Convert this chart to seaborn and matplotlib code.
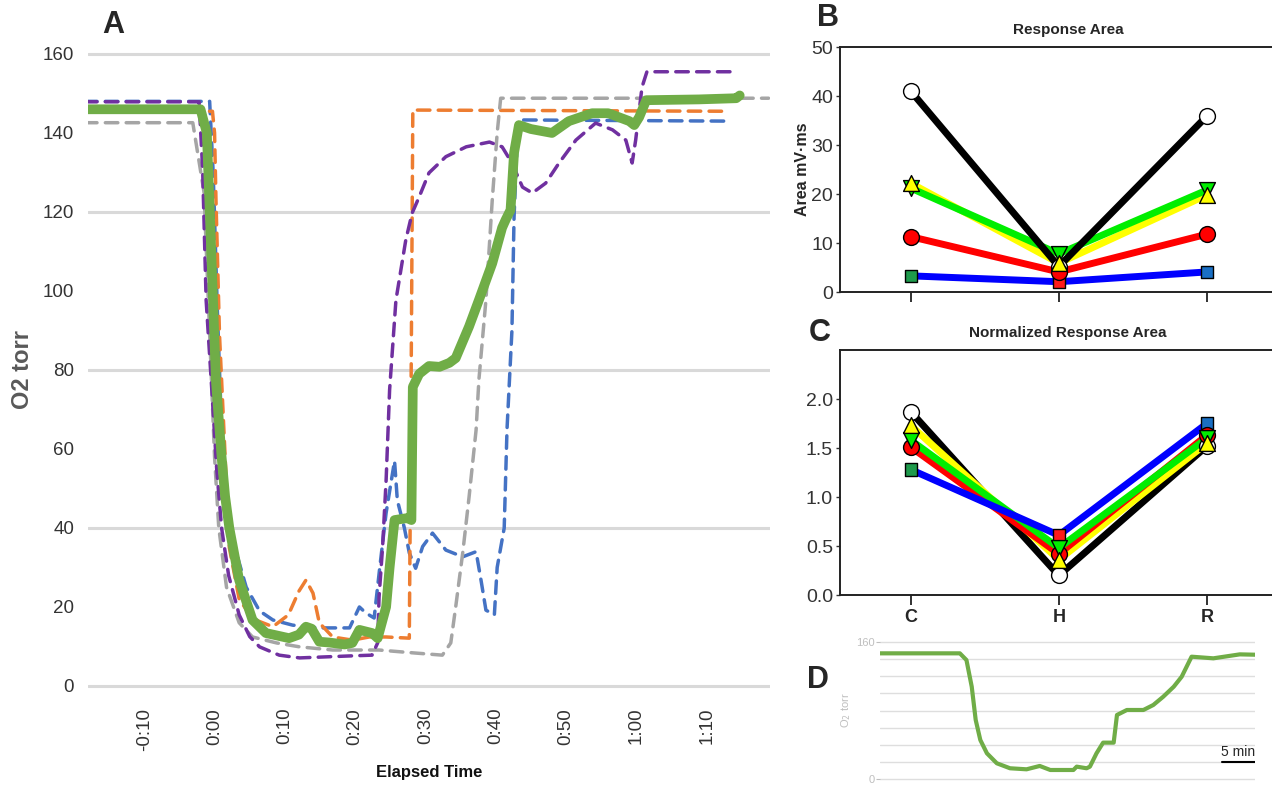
import matplotlib
matplotlib.use("Agg")
import matplotlib.pyplot as plt
import seaborn as sns

# ---- panel A: O2 traces (x in minutes, y in torr) ----
green_t = [-18.5, -2.0, -1.1, -0.7, 0.2, 1.0, 1.5, 2.1, 3.5, 5.4, 7.3, 10.6, 12.0, 13.0, 13.8, 14.9, 16.3, 18.5,
           19.6, 20.6, 22.4, 23.2, 24.4, 24.9, 25.6, 27.4, 28.0, 28.2, 29.1, 30.5, 32.0, 33.4, 34.3, 36.2, 37.6,
           39.5, 40.9, 41.4, 42.1, 42.6, 43.3, 45.0, 48.0, 50.4, 53.7, 56.0, 59.0, 59.7, 60.4, 61.4, 68.9, 74.2, 74.7]
green_y = [146, 146, 140, 121, 77, 58, 48, 40, 26.8, 16.7, 13.4, 12.1, 13, 15, 14.5, 11.2, 11, 10.5,
           10.9, 14.2, 13.4, 12.1, 20, 30, 42, 42.5, 42, 75.7, 79, 81, 80.8, 81.8, 83, 91, 97.7,
           107, 116, 118, 120.5, 135, 142, 141, 140, 143, 145, 145, 143, 142, 144, 148.3, 148.5, 148.8, 149.5]

blue_t = [-18.5, -0.7, -0.2, 0.4, 1.1, 1.8, 3.1, 4.5, 6.4, 8.3, 11.1, 14.9, 19.2, 20.6, 21.5, 22.7, 23.5, 24.4,
          25.6, 26.0, 27.0, 27.7, 28.6, 29.6, 31.0, 32.9, 35.3, 37.2, 37.9, 38.6, 39.8, 40.2, 41.2, 41.6, 42.3,
          42.6, 43.0, 43.3, 73.4]
blue_y = [148, 148, 130, 95, 60, 42, 33.7, 25, 19, 16.7, 15.4, 14.7, 14.7, 20, 18.5, 17.2, 30, 43.8,
          57, 47, 40, 33.7, 29.8, 35.3, 38.7, 34.4, 32.7, 34, 26.8, 19.2, 18, 30, 40, 65, 90,
          118.7, 135.7, 143.3, 143]

orange_t = [-18.5, -0.3, 0.0, 0.2, 0.7, 2.1, 3.5, 5.4, 8.3, 10.5, 12.0, 13.0, 14.0, 14.9, 16.8, 19.6, 22.0,
            24.4, 27.7, 27.9, 28.2, 72.7]
orange_y = [145.5, 145.5, 140, 123, 89, 35, 22, 17, 15, 18, 24, 26.8, 23.5, 16, 12.4, 11.6, 12.4,
            12.4, 12.1, 60, 145.8, 145.5]

gray_t = [-18.5, -3.1, -1.5, -0.5, 0.0, 0.6, 1.7, 3.5, 5.4, 8.8, 12.1, 16.8, 21.0, 23.4, 28.1, 32.4, 33.6,
          34.3, 35.3, 36.2, 37.2, 37.6, 38.6, 39.5, 40.2, 40.7, 78.8]
gray_y = [142.6, 142.6, 125, 80, 58, 40, 25, 16, 12.4, 10.9, 9.9, 9.1, 9.1, 9.1, 8.4, 7.8, 10.9,
          20, 33.7, 47.8, 64.8, 77.5, 97.7, 123, 140, 148.8, 148.8]

purple_t = [-18.5, -2.2, -1.7, -1.2, -0.5, 0.3, 1.0, 2.0, 3.5, 5.0, 6.4, 9.2, 12.1, 14.9, 19.2, 22.4, 23.2,
            23.4, 23.9, 24.4, 24.9, 25.8, 27.2, 28.1, 29.1, 30.5, 32.9, 35.8, 39.1, 40.9, 42.3, 43.8, 45.2,
            47.1, 49.0, 51.4, 54.2, 56.6, 58.5, 59.4, 59.9, 60.8, 61.5, 74.1]
purple_y = [147.9, 147.9, 131, 97.7, 78, 55, 40, 28, 18, 12.5, 9.9, 7.8, 7.1, 7.3, 7.6, 7.8, 10.9,
            22.5, 35.2, 52, 75, 97.7, 112.9, 119.7, 123.8, 129.9, 134, 136.5, 137.7, 136.5, 132.4, 126.3, 124.8,
            127.3, 132.4, 138.2, 142.5, 140.8, 138.2, 132.4, 138.2, 151.6, 155.5, 155.5]

time_ticks = [-10, 0, 10, 20, 30, 40, 50, 60, 70]
time_labels = ["-0:10", "0:00", "0:10", "0:20", "0:30", "0:40", "0:50", "1:00", "1:10"]

# ---- panels B / C ----
conds = ["C", "H", "R"]
area_black = [41.0, 5.2, 35.9]
area_yellow = [22.2, 5.9, 19.8]
area_green = [21.2, 7.8, 20.8]
area_red = [11.3, 4.1, 11.8]
area_blue = [3.3, 2.1, 4.1]

norm_black = [1.87, 0.20, 1.52]
norm_yellow = [1.73, 0.36, 1.55]
norm_green = [1.58, 0.48, 1.60]
norm_red = [1.51, 0.42, 1.63]
norm_blue = [1.28, 0.61, 1.75]

square_colors = ["#1e9a4c", "#ff1a1a", "#1a6fc4"]

# ---- panel D: single green recording (minutes) ----
d_t = [0, 12.1, 13.1, 13.9, 14.5, 15.2, 16.2, 17.7, 19.7, 22.2, 24.2, 25.8, 29.3, 29.8, 31.3, 31.8, 32.8,
       33.8, 35.4, 35.9, 37.4, 39.9, 41.4, 42.9, 44.5, 45.7, 47.2, 50.5, 54.5, 56.8]
d_y = [146.5, 146.5, 138.7, 107.7, 69, 45.7, 30.2, 18.6, 12.8, 11.6, 15.5, 10.8, 10.8, 14.7, 12.8, 14.7, 30.2,
       42.6, 42.6, 74.8, 80.6, 80.6, 86.4, 96, 107.7, 119.3, 142.6, 140.7, 145.3, 144.9]


sns.set_style("white")
plt.rcParams['font.family'] = ['Liberation Sans', 'DejaVu Sans']

fig = plt.figure(figsize=(12.72, 7.85), dpi=100)

# ================= A =================
axA = fig.add_axes([0.0692, 0.1161, 0.5361, 0.8252])
for yy in range(0, 161, 40):
    axA.axhline(yy, color="#d9d9d9", lw=2.2, zorder=0)

dash = (0, (3.6, 2.4))
for t, y, c in [(blue_t, blue_y, "#4472c4"), (orange_t, orange_y, "#ed7d31"),
                (gray_t, gray_y, "#a5a5a5"), (purple_t, purple_y, "#7030a0")]:
    sns.lineplot(x=t, y=y, ax=axA, color=c, linewidth=2.5, linestyle=dash,
                 sort=False, estimator=None, dash_capstyle="round")
sns.lineplot(x=green_t, y=green_y, ax=axA, color="#70ad47", linewidth=7,
             sort=False, estimator=None, solid_capstyle="round", solid_joinstyle="round")

axA.set_xlim(-18, 79)
axA.set_ylim(-2, 162)
axA.set_yticks(range(0, 161, 20))
axA.set_xticks(time_ticks)
axA.set_xticklabels(time_labels, rotation=90)
axA.tick_params(axis="both", length=0, labelsize=13.5, colors="#333333")
axA.tick_params(axis="x", pad=10)
axA.tick_params(axis="y", pad=10)
for s in axA.spines.values():
    s.set_visible(False)
axA.set_ylabel("O2 torr", fontsize=17, fontweight="bold", color="#595959", labelpad=6)
axA.set_xlabel("Elapsed Time", fontsize=12, fontweight="bold", color="#111111", labelpad=10)
fig.text(113 / 1272, 1 - 25 / 785, "A", fontsize=22, fontweight="bold", ha="center", va="center")


def draw_summary(ax, black, yellow, green, red, blue, line_order):
    xs = [0, 1, 2]
    lines = {"black": (black, "#000000"), "yellow": (yellow, "#ffff00"), "green": (green, "#00ee00"),
             "red": (red, "#ff0000"), "blue": (blue, "#0000ff")}
    for i, name in enumerate(line_order):
        vals, col = lines[name]
        sns.lineplot(x=xs, y=vals, ax=ax, color=col, linewidth=5, sort=False, estimator=None,
                     zorder=2 + i * 0.1, solid_capstyle="round")
    kw = dict(edgecolor="black", linewidth=1.0, zorder=5, ax=ax, legend=False, clip_on=False)
    sns.scatterplot(x=xs, y=black, marker="o", s=130, color="white", **kw)
    sns.scatterplot(x=xs, y=blue, marker="s", s=80, hue=conds, palette=square_colors, **kw)
    sns.scatterplot(x=xs, y=red, marker="o", s=130, color="#ff0000", **kw)
    sns.scatterplot(x=xs, y=green, marker="v", s=130, color="#00ee00", **kw)
    sns.scatterplot(x=xs, y=yellow, marker="^", s=130, color="#ffff00", **kw)
    ax.set_xlim(-0.478, 2.44)
    ax.set_xticks(xs)
    ax.spines["right"].set_visible(False)
    for k in ["left", "top", "bottom"]:
        ax.spines[k].set_linewidth(1.4)
        ax.spines[k].set_color("#222222")
    ax.tick_params(axis="x", bottom=True, direction="out", length=7, width=1.3, color="#222222")
    ax.tick_params(axis="y", left=True, direction="out", length=3, width=1.0, labelsize=14,
                   colors="#333333", pad=2)


# ================= B =================
axB = fig.add_axes([0.6604, 0.628, 0.3396, 0.3121])
draw_summary(axB, area_black, area_yellow, area_green, area_red, area_blue,
             ["blue", "red", "yellow", "green", "black"])
axB.set_ylim(0, 50)
axB.set_yticks(range(0, 51, 10))
axB.set_xticklabels(["", "", ""])
axB.set_ylabel("Area mV·ms", fontsize=11.5, fontweight="bold", labelpad=1)
fig.text(1068 / 1272, 1 - 30 / 785, "Response Area", fontsize=11, fontweight="bold", ha="center", va="center")
fig.text(828 / 1272, 1 - 18 / 785, "B", fontsize=22, fontweight="bold", ha="center", va="center")

# ================= C =================
axC = fig.add_axes([0.6604, 0.242, 0.3396, 0.3121])
draw_summary(axC, norm_black, norm_yellow, norm_green, norm_red, norm_blue,
             ["black", "yellow", "red", "green", "blue"])
axC.set_ylim(0, 2.5)
axC.set_yticks([0, 0.5, 1.0, 1.5, 2.0])
axC.set_yticklabels(["0.0", "0.5", "1.0", "1.5", "2.0"])
axC.set_xticklabels(conds, fontsize=13, fontweight="bold")
axC.tick_params(axis="x", pad=3)
axC.set_ylabel("")
fig.text(1068 / 1272, 1 - 333 / 785, "Normalized Response Area", fontsize=11, fontweight="bold",
         ha="center", va="center")
fig.text(820 / 1272, 1 - 333 / 785, "C", fontsize=22, fontweight="bold", ha="center", va="center")

# ================= D =================
axD = fig.add_axes([0.6918, 0.0051, 0.2948, 0.1796])
for yy in range(0, 161, 20):
    axD.axhline(yy, color="#dedede", lw=1.0, zorder=0)
sns.lineplot(x=d_t, y=d_y, ax=axD, color="#70ad47", linewidth=3, sort=False, estimator=None)
axD.set_xlim(0, d_t[-1])
axD.set_ylim(-2, 162)
axD.set_yticks([0, 160])
axD.set_xticks([])
axD.tick_params(axis="y", left=True, length=3, width=0.8, color="#bfbfbf", labelsize=8,
                labelcolor="#bfbfbf", pad=1)
for s in axD.spines.values():
    s.set_visible(False)
axD.set_ylabel("O$_2$ torr", fontsize=8, color="#bfbfbf", labelpad=2)
axD.plot([d_t[-1] - 5, d_t[-1]], [20, 20], color="black", lw=1.5)
axD.text(d_t[-1] - 2.5, 24, "5 min", fontsize=10, ha="center", va="bottom")
fig.text(818 / 1272, 1 - 680 / 785, "D", fontsize=22, fontweight="bold", ha="center", va="center")

fig.savefig("out.png", dpi=100)
